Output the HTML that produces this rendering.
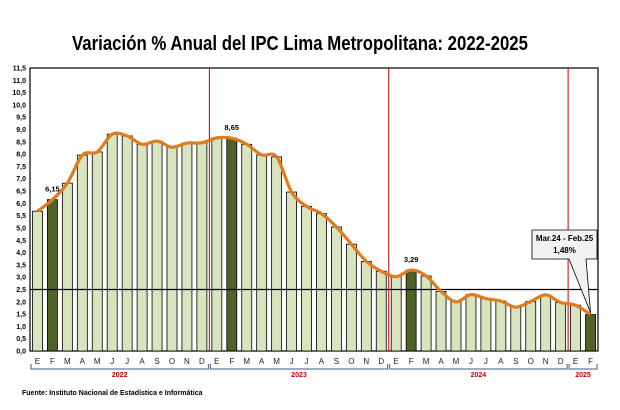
<!DOCTYPE html>
<html><head><meta charset="utf-8"><style>
body{margin:0;background:#fff;width:620px;height:410px;overflow:hidden}
svg{display:block;font-family:"Liberation Sans",sans-serif}
</style></head><body>
<svg id="c" width="620" height="410">
<text x="300" y="50" text-anchor="middle" font-size="20" font-weight="bold" textLength="456" lengthAdjust="spacingAndGlyphs">Variación % Anual del IPC Lima Metropolitana: 2022-2025</text>
<text x="22" y="395" font-size="7" font-weight="bold">Fuente: Instituto Nacional de Estadística  e Informática</text>
</svg>
<script>
const months=["E","F","M","A","M","J","J","A","S","O","N","D","E","F","M","A","M","J","J","A","S","O","N","D","E","F","M","A","M","J","J","A","S","O","N","D","E","F"];
const values=[5.68,6.15,6.82,7.96,8.09,8.81,8.74,8.40,8.53,8.28,8.45,8.46,8.66,8.65,8.40,7.97,7.89,6.46,5.88,5.58,5.04,4.34,3.64,3.24,3.02,3.29,3.05,2.42,2.00,2.29,2.13,2.03,1.78,2.01,2.28,1.97,1.86,1.48];
const highlight=[1,13,25,37];
const labeled=[1,13,25];
const years=["2022","2023","2024","2025"];
const yearStart=[0,12,24,36];
const yearLen=[12,12,12,2];
const yTicks=[];for(let i=0;i<=23;i++)yTicks.push(i*0.5);
const target=2.5;

const L=30,R=598,T=68,B=351,YMAX=11.5;
const slot=(R-L)/months.length;
const x=i=>L+slot*(i+0.5);
const y=v=>B-(v/YMAX)*(B-T);
const svg=document.getElementById('c');
const NS="http://www.w3.org/2000/svg";
function mk(t,a,p){const e=document.createElementNS(NS,t);for(const k in a)e.setAttribute(k,a[k]);(p||svg).appendChild(e);return e;}

const frame=mk('rect',{x:L,y:T,width:R-L,height:B-T,fill:'none',stroke:'#000','stroke-width':1.2});



yTicks.forEach(v=>{
  const t=mk('text',{x:L-4,y:y(v)+2.5,'font-size':7,'font-weight':'bold','text-anchor':'end'});
  t.textContent=v.toFixed(1).replace('.',',');
  
  
});

values.forEach((v,i)=>{
  const r=mk('rect',{x:x(i)-5,y:y(v),width:10,height:B-y(v),fill:highlight.includes(i)?'#4f6228':'#d7e4bd',stroke:'#000','stroke-width':0.8});
  
  
  const m=mk('text',{x:x(i),y:B+13,'font-size':8,'text-anchor':'middle',fill:'#222'});
  m.textContent=months[i];
  
  
});

yearStart.forEach((s,k)=>{
  if(s>0){
    const ln=mk('line',{x1:L+slot*s,x2:L+slot*s,y1:T,y2:B,stroke:'#c00000','stroke-width':1});
    
    
  }
  const x0=L+slot*s+1,x1=L+slot*(s+yearLen[k])-1;
  const br=mk('path',{d:`M${x0},${B+13}V${B+18}H${x1}V${B+13}`,fill:'none',stroke:'#3a5a8a','stroke-width':1});
  
  
  const yt=mk('text',{x:(x0+x1)/2,y:B+26,'font-size':7,'font-weight':'bold','text-anchor':'middle',fill:'#c00000'});
  yt.textContent=years[k];
  
  
});

const tl=mk('line',{x1:L,x2:R,y1:y(target),y2:y(target),stroke:'#000','stroke-width':1.2});



const pts=values.map((v,i)=>[x(i),y(v)]);
let d=`M${pts[0][0]},${pts[0][1]}`;
for(let i=0;i<pts.length-1;i++){
  const p0=pts[Math.max(0,i-1)],p1=pts[i],p2=pts[i+1],p3=pts[Math.min(pts.length-1,i+2)];
  d+=` C${p1[0]+(p2[0]-p0[0])/6},${p1[1]+(p2[1]-p0[1])/6} ${p2[0]-(p3[0]-p1[0])/6},${p2[1]-(p3[1]-p1[1])/6} ${p2[0]},${p2[1]}`;
}
const line=mk('path',{d:d,fill:'none',stroke:'#e07b1f','stroke-width':3.2,'stroke-linejoin':'round'});



labeled.forEach(i=>{
  const t=mk('text',{x:x(i),y:y(values[i])-8,'font-size':7.5,'font-weight':'bold','text-anchor':'middle'});
  t.textContent=values[i].toFixed(2).replace('.',',');
  
  
});

const li=values.length-1;
const cb=mk('path',{d:`M532,230H597V259H586L${x(li)},${y(values[li])-2}L569,259H532Z`,fill:'#f2f2f2',stroke:'#000','stroke-width':0.8});


const c1=mk('text',{x:564.5,y:241,'font-size':8,'font-weight':'bold','text-anchor':'middle'});
c1.textContent='Mar.24 - Feb.25';


const c2=mk('text',{x:564.5,y:253,'font-size':8,'font-weight':'bold','text-anchor':'middle'});
c2.textContent=values[li].toFixed(2).replace('.',',')+'%';


</script>
</body></html>
